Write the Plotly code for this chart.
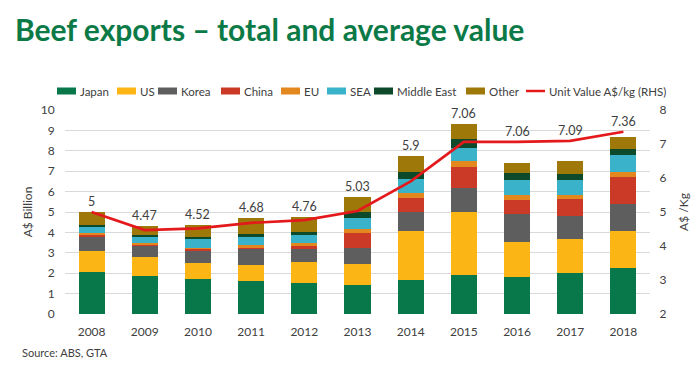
import plotly.graph_objects as go

years = ["2008", "2009", "2010", "2011", "2012", "2013", "2014", "2015", "2016", "2017", "2018"]
japan = [2.07, 1.85, 1.70, 1.64, 1.51, 1.43, 1.65, 1.90, 1.82, 2.00, 2.26]
us = [1.04, 0.95, 0.79, 0.75, 1.03, 1.03, 2.43, 3.08, 1.72, 1.67, 1.79]
korea = [0.71, 0.58, 0.62, 0.81, 0.66, 0.80, 0.94, 1.21, 1.36, 1.12, 1.36]
china = [0.05, 0.03, 0.09, 0.05, 0.14, 0.72, 0.68, 1.03, 0.69, 0.83, 1.33]
eu = [0.12, 0.07, 0.06, 0.11, 0.12, 0.17, 0.25, 0.28, 0.25, 0.23, 0.23]
sea = [0.28, 0.32, 0.41, 0.43, 0.41, 0.54, 0.68, 0.64, 0.73, 0.72, 0.83]
middle_east = [0.09, 0.09, 0.12, 0.14, 0.16, 0.31, 0.33, 0.44, 0.32, 0.30, 0.30]
other = [0.66, 0.42, 0.57, 0.76, 0.74, 0.72, 0.80, 0.73, 0.52, 0.61, 0.59]
unit_value = [5.00, 4.47, 4.52, 4.68, 4.76, 5.03, 5.90, 7.06, 7.06, 7.09, 7.36]
unit_labels = ["5", "4.47", "4.52", "4.68", "4.76", "5.03", "5.9", "7.06", "7.06", "7.09", "7.36"]
line_name = "Unit Value A$/kg (RHS)"
line_color = "#E3191C"

series = [
    ("Japan", japan, "#08774A"),
    ("US", us, "#FBB616"),
    ("Korea", korea, "#5E5E5E"),
    ("China", china, "#CB3A26"),
    ("EU", eu, "#E2881E"),
    ("SEA", sea, "#3AB2CA"),
    ("Middle East", middle_east, "#0C4A2B"),
    ("Other", other, "#9E7808"),
]

FONT = "Lato"
TXT = "#404040"
W, H = 700, 373
OFF = 8  # page body margin offset compensation
ML, MT = 65 - OFF, 110 - OFF
MR, MB = 50 + OFF, 59 + OFF
PW, PH = W - ML - MR, H - MT - MB
CLEAR = "rgba(0,0,0,0)"


def px2x(px):
    return (px - OFF - ML) / PW


def py2y(py):
    return (H - MB - (py - OFF)) / PH


fig = go.Figure()
for name, vals, col in series:
    fig.add_trace(go.Bar(x=years, y=vals, name=name, marker=dict(color=col, line=dict(width=0)),
                         yaxis="y", showlegend=False))

fig.add_trace(go.Scatter(x=years, y=unit_value, name=line_name, mode="lines",
                         line=dict(color=line_color, width=2.7), yaxis="y2", showlegend=False))

# value labels above the higher of bar top and line point (in right-axis units)
totals = [sum(v[i] for _, v, _ in series) for i in range(len(years))]
for i in range(len(years)):
    top = max(unit_value[i], 2 + totals[i] * 0.6)
    fig.add_annotation(x=i, y=top, xref="x", yref="y2", text=unit_labels[i], showarrow=False,
                       yanchor="bottom", yshift=1, font=dict(family=FONT, size=12.5, color=TXT))

# legend row (layout positions in screen pixels)
legend_px = [57, 117, 158, 221, 281, 327, 374, 466, 526]
legend_py = 91
entries = [(n, c, "bar") for n, _, c in series] + [(line_name, line_color, "line")]
for (name, col, kind), lx in zip(entries, legend_px):
    if kind == "bar":
        fig.add_shape(type="rect", xref="paper", yref="paper",
                      x0=px2x(lx), x1=px2x(lx + 19), y0=py2y(legend_py + 3.5), y1=py2y(legend_py - 3.5),
                      fillcolor=col, line=dict(width=0))
    else:
        fig.add_shape(type="line", xref="paper", yref="paper",
                      x0=px2x(lx), x1=px2x(lx + 19), y0=py2y(legend_py), y1=py2y(legend_py),
                      line=dict(color=col, width=2.5))
    fig.add_annotation(x=px2x(lx + 21), y=py2y(legend_py), xref="paper", yref="paper",
                       xanchor="left", yanchor="middle", text=name, showarrow=False,
                       font=dict(family=FONT, size=11.5, color=TXT))

fig.update_layout(
    width=W, height=H,
    margin=dict(l=ML, r=MR, t=MT, b=MB),
    paper_bgcolor="white", plot_bgcolor="white",
    barmode="stack", bargap=0.51,
    title=dict(text="<b>Beef exports – total and average value</b>", xref="container",
               x=(15 - OFF) / W, xanchor="left",
               yref="container", y=1 - (30 - OFF) / H, yanchor="middle",
               font=dict(family=FONT, size=30, color="#0B7A46")),
    font=dict(family=FONT, size=12, color=TXT),
    showlegend=False,
    xaxis=dict(type="category", range=[-0.5, len(years) - 0.5], showgrid=False, showline=False,
               ticks="outside", ticklen=7, tickcolor=CLEAR, tickfont=dict(size=12, color=TXT)),
    yaxis=dict(range=[0, 10], dtick=1, showgrid=True, gridcolor="#D9D9D9", gridwidth=1,
               zeroline=False, showline=False, ticks="outside", ticklen=7, tickcolor=CLEAR,
               title=dict(text="A$ Billion", font=dict(size=12, color=TXT), standoff=5),
               tickfont=dict(size=12, color=TXT)),
    yaxis2=dict(range=[2, 8], dtick=1, overlaying="y", side="right", showgrid=False,
                zeroline=False, showline=False, ticks="outside", ticklen=6, tickcolor=CLEAR,
                title=dict(text="A$ /Kg", font=dict(size=12, color=TXT), standoff=14),
                tickfont=dict(size=12, color=TXT)),
)

fig.add_annotation(x=px2x(20), y=py2y(352), xref="paper", yref="paper", xanchor="left",
                   yanchor="middle", text="Source: ABS, GTA", showarrow=False,
                   font=dict(family=FONT, size=11, color=TXT))

fig.write_html("out.html")
